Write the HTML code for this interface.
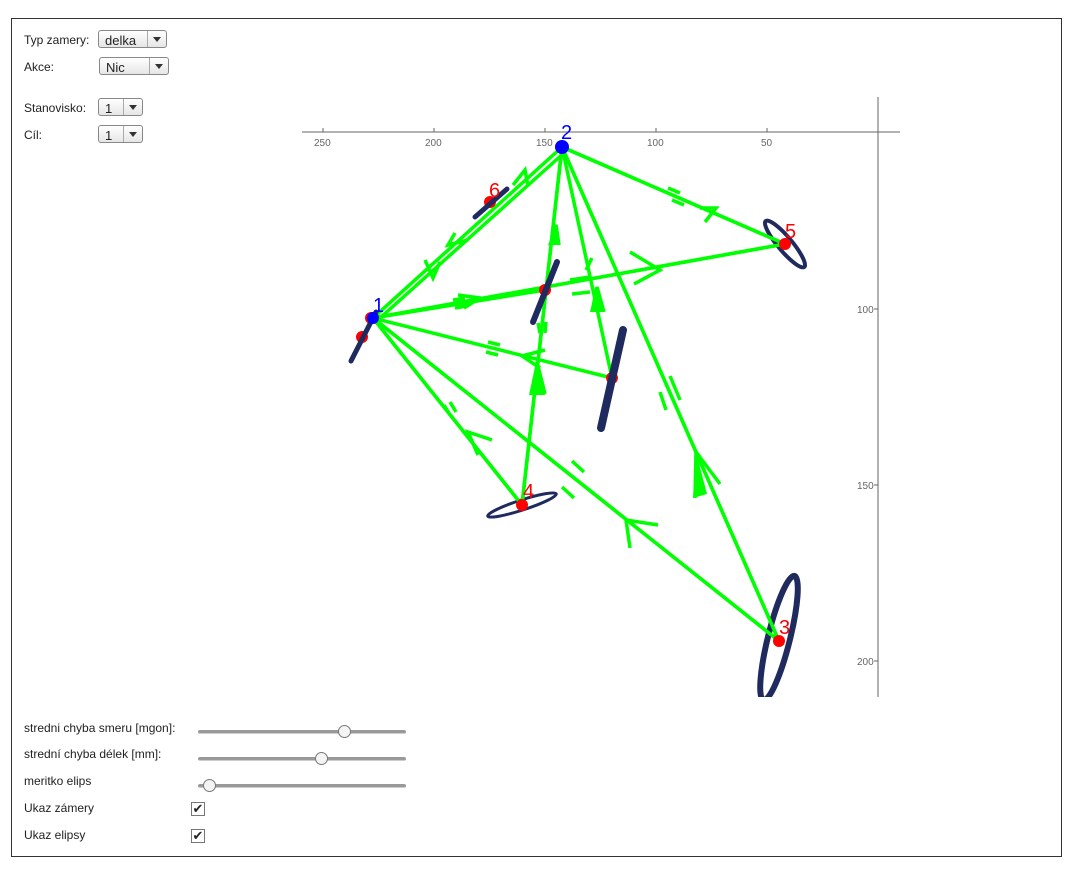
<!DOCTYPE html>
<html><head><style>
body{margin:0;width:1086px;height:879px;background:#fff;font-family:"Liberation Sans",sans-serif;font-size:12px;color:#222;position:relative;overflow:hidden}
.frame{position:absolute;left:11px;top:18px;width:1049px;height:837px;border:1px solid #333}
.lbl{position:absolute;font-size:12px}
.sel{position:absolute;height:18px;border:1px solid #888;border-radius:3px;background:linear-gradient(#fff,#e6e6e6);font-size:13px;box-sizing:border-box}
.sel span{position:absolute;left:6px;top:2px}
.sel i{position:absolute;right:0;top:0;width:18px;height:16px;border-left:1px solid #aaa}
.sel i:after{content:"";position:absolute;left:5px;top:6px;border-left:4px solid transparent;border-right:4px solid transparent;border-top:5px solid #333}
.track{position:absolute;height:3px;background:#999;border-radius:2px;border-bottom:1px solid #ccc}
.knob{position:absolute;width:11px;height:11px;border-radius:50%;border:1px solid #777;background:#f4f4f4;top:-5px}
.cb{position:absolute;width:12px;height:12px;border:1px solid #777;background:#fff;font-size:13px;line-height:12px;text-align:center}
</style></head><body>
<div class="frame"></div>
<div class="lbl" style="left:24px;top:33px">Typ zamery:</div>
<div class="sel" style="left:98px;top:30px;width:69px"><span>delka</span><i></i></div>
<div class="lbl" style="left:24px;top:60px">Akce:</div>
<div class="sel" style="left:99px;top:57px;width:70px"><span>Nic</span><i></i></div>
<div class="lbl" style="left:24px;top:101px">Stanovisko:</div>
<div class="sel" style="left:98px;top:98px;width:45px"><span>1</span><i></i></div>
<div class="lbl" style="left:24px;top:128px">Cíl:</div>
<div class="sel" style="left:98px;top:125px;width:45px"><span>1</span><i></i></div>

<div class="lbl" style="left:24px;top:721px">stredni chyba smeru [mgon]:</div>
<div class="track" style="left:198px;top:730px;width:208px"><div class="knob" style="left:140px"></div></div>
<div class="lbl" style="left:24px;top:747px">strední chyba délek [mm]:</div>
<div class="track" style="left:198px;top:757px;width:208px"><div class="knob" style="left:117px"></div></div>
<div class="lbl" style="left:24px;top:774px">meritko elips</div>
<div class="track" style="left:198px;top:784px;width:208px"><div class="knob" style="left:5px"></div></div>
<div class="lbl" style="left:24px;top:801px">Ukaz zámery</div>
<div class="cb" style="left:191px;top:802px">✔</div>
<div class="lbl" style="left:24px;top:828px">Ukaz elipsy</div>
<div class="cb" style="left:191px;top:829px">✔</div>

<svg style="position:absolute;left:0;top:0" width="1086" height="879">
<defs><clipPath id="c"><rect x="300" y="95" width="610" height="602"/></clipPath></defs>
<g stroke="#666" stroke-width="1">
<line x1="302" y1="132" x2="900" y2="132"/><line x1="878" y1="97" x2="878" y2="697"/>
<line x1="323" y1="128" x2="323" y2="132"/><line x1="434" y1="128" x2="434" y2="132"/><line x1="545" y1="128" x2="545" y2="132"/><line x1="656" y1="128" x2="656" y2="132"/><line x1="767" y1="128" x2="767" y2="132"/>
<line x1="874" y1="309" x2="878" y2="309"/><line x1="874" y1="485" x2="878" y2="485"/><line x1="874" y1="661" x2="878" y2="661"/>
</g>
<g fill="#666" font-size="10" font-family="Liberation Sans">
<text x="314" y="146">250</text><text x="425" y="146">200</text><text x="536" y="146">150</text><text x="647" y="146">100</text><text x="761" y="146">50</text>
<text x="857" y="313">100</text><text x="857" y="489">150</text><text x="857" y="665">200</text>
</g>
<g clip-path="url(#c)">
<g stroke="#00ff00" stroke-width="3.5" fill="none">
<line x1="373" y1="318" x2="562" y2="147"/><line x1="380" y1="318" x2="565" y2="152"/>
<line x1="373" y1="318" x2="785" y2="244"/><line x1="373" y1="318" x2="545" y2="290"/>
<line x1="562" y1="147" x2="785" y2="244"/>
<line x1="562" y1="147" x2="522" y2="505"/>
<line x1="562" y1="147" x2="612" y2="378"/>
<line x1="562" y1="147" x2="779" y2="641"/>
<line x1="373" y1="318" x2="612" y2="378"/>
<line x1="373" y1="318" x2="522" y2="505"/>
<line x1="373" y1="318" x2="779" y2="641"/>
<polyline points="630,252 660,270 634,284"/>
<polyline points="458,295 480,298 464,308"/>
<polyline points="545,350 522,356 540,368"/>
<polyline points="455,233 448,245 468,240"/>
<polyline points="425,260 433,278 440,262"/>
<polyline points="630,548 626,520 658,525"/>
<polyline points="700,208 716,208 705,222"/>
<polyline points="695,498 696,452 720,484"/>
<polyline points="478,455 468,432 492,440"/>
<polyline points="513,185 525,170 528,186"/>
<polyline points="536,395 537,362 545,394"/>
<polyline points="592,312 597,287 604,312"/>
<polyline points="551,245 556,225 559,245"/>
<line x1="668" y1="188" x2="680" y2="193"/><line x1="672" y1="200" x2="684" y2="205"/>
<line x1="586" y1="270" x2="592" y2="258"/><line x1="570" y1="280" x2="590" y2="277"/><line x1="572" y1="294" x2="590" y2="292"/>
<line x1="453" y1="300" x2="465" y2="298"/><line x1="455" y1="308" x2="467" y2="306"/>
<line x1="488" y1="342" x2="500" y2="345"/><line x1="486" y1="352" x2="498" y2="355"/>
<line x1="538" y1="323" x2="540" y2="333"/><line x1="546" y1="322" x2="545" y2="333"/>
<line x1="444" y1="405" x2="450" y2="415"/><line x1="450" y1="402" x2="456" y2="412"/>
<line x1="572" y1="461" x2="584" y2="472"/><line x1="562" y1="487" x2="574" y2="498"/>
<line x1="660" y1="392" x2="666" y2="410"/><line x1="670" y1="376" x2="680" y2="400"/>
</g>
<g fill="#00ff00"><polygon points="529,395 545,395 536,362"/><polygon points="590,312 604,312 597,287"/><polygon points="693,498 707,494 696,452"/><polygon points="548,245 560,245 556,225"/></g>
<g fill="none" stroke="#1f2a5e">
<ellipse cx="779" cy="638" rx="11" ry="64" stroke-width="6" transform="rotate(14 779 638)"/>
<ellipse cx="522" cy="505" rx="36" ry="5" stroke-width="3" transform="rotate(-18 522 505)"/>
<ellipse cx="785" cy="244" rx="30" ry="7" stroke-width="4" transform="rotate(50 785 244)"/>
</g>
<g stroke="#00ff00" stroke-width="3.5"><line x1="562" y1="147" x2="785" y2="244"/><line x1="373" y1="318" x2="785" y2="244"/><line x1="562" y1="147" x2="779" y2="641"/><line x1="373" y1="318" x2="779" y2="641"/><line x1="562" y1="147" x2="522" y2="505"/><line x1="373" y1="318" x2="522" y2="505"/></g>
<g fill="#f00"><circle cx="779" cy="641" r="6"/><circle cx="522" cy="505" r="6"/><circle cx="785" cy="244" r="6"/><circle cx="490" cy="202" r="6"/><circle cx="612" cy="378" r="6"/><circle cx="545" cy="290" r="6"/><circle cx="362" cy="337" r="6"/><circle cx="371" cy="318" r="6"/></g>
<g stroke="#1f2a5e" stroke-linecap="round">
<line x1="623" y1="330" x2="601" y2="428" stroke-width="8"/>
<line x1="557" y1="262" x2="533" y2="322" stroke-width="6"/>
<line x1="376" y1="312" x2="351" y2="361" stroke-width="5"/>
<line x1="475" y1="217" x2="507" y2="189" stroke-width="5"/>
</g>
<g fill="#00f"><circle cx="562" cy="147" r="7"/><circle cx="373" cy="318" r="6"/></g>
</g>
<g font-family="Liberation Sans" font-size="20">
<text x="561" y="139" fill="#00f">2</text><text x="373" y="312" fill="#00f">1</text>
<text x="489" y="197" fill="#f00">6</text><text x="785" y="238" fill="#f00">5</text><text x="523" y="498" fill="#f00">4</text><text x="779" y="634" fill="#f00">3</text>
</g>
</svg>
</body></html>
